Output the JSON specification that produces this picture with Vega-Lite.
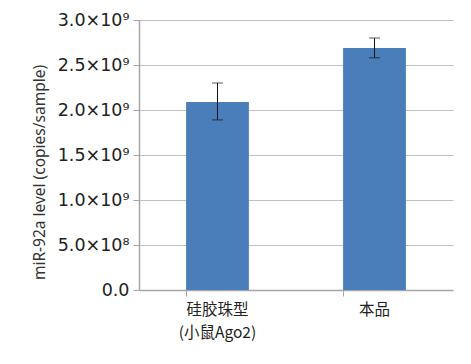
{
  "$schema": "https://vega.github.io/schema/vega-lite/v6.json",
  "autosize": "none",
  "width": 314,
  "height": 270,
  "padding": {"left": 139, "top": 20, "right": 18, "bottom": 54},
  "background": "white",
  "data": {"values": [
    {"group": "硅胶珠型|(小鼠Ago2)", "value": 2090000000, "lo": 1890000000, "hi": 2300000000},
    {"group": "本品", "value": 2690000000, "lo": 2580000000, "hi": 2800000000}
  ]},
  "config": {
    "view": {"stroke": null},
    "font": "DejaVu Sans"
  },
  "encoding": {
    "x": {"field": "group", "type": "nominal", "sort": null,
      "scale": {"paddingInner": 0.6, "paddingOuter": 0.3},
      "axis": {"title": null, "labelAngle": 0, "labelExpr": "split(datum.label, '|')",
        "labelFont": "Noto Sans CJK SC", "labelFontSize": 15.5, "labelColor": "#222",
        "labelLineHeight": 23, "labelPadding": 6,
        "bandPosition": 0, "domainColor": "#a6a6a6", "tickColor": "#a6a6a6", "tickSize": 6,
        "grid": false, "domainWidth": 1.5}
    }
  },
  "layer": [
    {
      "mark": {"type": "bar", "color": "#4A7EBB"},
      "encoding": {
        "y": {"field": "value", "type": "quantitative",
          "scale": {"domain": [0, 3000000000], "nice": false},
          "axis": {"values": [0, 500000000, 1000000000, 1500000000, 2000000000, 2500000000, 3000000000],
            "labelExpr": "datum.value == 0 ? '0.0' : (datum.value < 1e9 ? format(datum.value/1e8, '.1f') + '×10⁸' : format(datum.value/1e9, '.1f') + '×10⁹')",
            "labelFontSize": 17.5, "labelColor": "#222", "labelPadding": 4,
            "title": "miR-92a level (copies/sample)", "titleFontSize": 15.5, "titleFontWeight": "normal",
            "titleFont": "Noto Sans", "titleColor": "#333", "titlePadding": 10, "titleY": 152,
            "gridColor": "#c0c0c0", "gridWidth": 1.2, "domainColor": "#a6a6a6", "domainWidth": 1.5,
            "tickColor": "#a6a6a6", "tickSize": 6}
        }
      }
    },
    {
      "mark": {"type": "rule", "color": "#111", "strokeWidth": 1},
      "encoding": {"y": {"field": "lo", "type": "quantitative"}, "y2": {"field": "hi"}}
    },
    {
      "mark": {"type": "tick", "color": "#111", "size": 11, "thickness": 1},
      "encoding": {"y": {"field": "lo", "type": "quantitative"}}
    },
    {
      "mark": {"type": "tick", "color": "#111", "size": 11, "thickness": 1},
      "encoding": {"y": {"field": "hi", "type": "quantitative"}}
    }
  ]
}
